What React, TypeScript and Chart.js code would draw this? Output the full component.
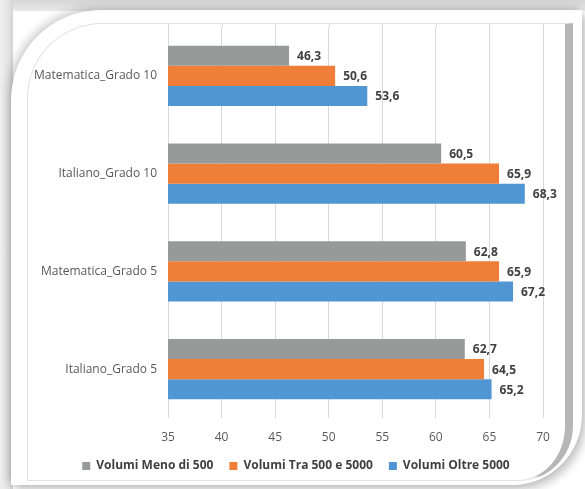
import React, { useEffect, useRef } from "react";
import { Chart, registerables } from "chart.js";

Chart.register(...registerables);

const categories = ["Matematica_Grado 10", "Italiano_Grado 10", "Matematica_Grado 5", "Italiano_Grado 5"];
const seriesNames = ["Volumi Meno di 500", "Volumi Tra 500 e 5000", "Volumi Oltre 5000"];
const menoDi500 = [46.3, 60.5, 62.8, 62.7];
const tra500e5000 = [50.6, 65.9, 65.9, 64.5];
const oltre5000 = [53.6, 68.3, 67.2, 65.2];
const seriesColors = ["#989a9a", "#ef7f38", "#5096d3"];
const xMin = 35;
const xMax = 70;
const xStep = 5;

const FONT = "'Open Sans', 'DejaVu Sans', sans-serif";

const dataLabelPlugin = {
  id: "dataLabels",
  afterDatasetsDraw(chart: any) {
    const ctx = chart.ctx;
    ctx.save();
    ctx.font = `bold 12px ${FONT}`;
    ctx.fillStyle = "#404040";
    ctx.textAlign = "left";
    ctx.textBaseline = "middle";
    chart.data.datasets.forEach((ds: any, i: number) => {
      const meta = chart.getDatasetMeta(i);
      meta.data.forEach((el: any, j: number) => {
        const v = ds.data[j] as number;
        ctx.fillText(v.toFixed(1).replace(".", ","), el.x + 8, el.y + 1);
      });
    });
    ctx.restore();
  },
};

// extends the vertical gridlines a few pixels above the plot area, as in the source
const gridExtendPlugin = {
  id: "gridExtend",
  beforeDatasetsDraw(chart: any) {
    const ctx = chart.ctx;
    const xs = chart.scales.x;
    const top = chart.chartArea.top;
    ctx.save();
    ctx.strokeStyle = "#d9d9d9";
    ctx.lineWidth = 1;
    xs.ticks.forEach((t: any) => {
      const px = Math.round(xs.getPixelForValue(t.value)) + 0.5;
      ctx.beginPath();
      ctx.moveTo(px, top - 4);
      ctx.lineTo(px, top);
      ctx.stroke();
    });
    ctx.restore();
  },
};

// nudges the legend to the right so it is centred like the source
const legendShiftPlugin = {
  id: "legendShift",
  afterLayout(chart: any) {
    const lg = chart.legend;
    if (lg) {
      lg.left += 11;
      lg.right += 11;
    }
  },
};

export default function App() {
  const ref = useRef<HTMLCanvasElement>(null);

  useEffect(() => {
    if (!ref.current) return;
    const chart = new Chart(ref.current, {
      type: "bar",
      data: {
        labels: categories,
        datasets: [
          { label: seriesNames[0], data: menoDi500, backgroundColor: seriesColors[0] },
          { label: seriesNames[1], data: tra500e5000, backgroundColor: seriesColors[1] },
          { label: seriesNames[2], data: oltre5000, backgroundColor: seriesColors[2] },
        ],
      },
      options: {
        indexAxis: "y",
        responsive: false,
        maintainAspectRatio: false,
        animation: false,
        layout: { padding: { left: 27, right: 42, top: 27, bottom: 7 } },
        datasets: { bar: { categoryPercentage: 0.617, barPercentage: 1 } },
        scales: {
          x: {
            min: xMin,
            max: xMax,
            ticks: { stepSize: xStep, color: "#595959", font: { family: FONT, size: 12 }, padding: 12 },
            grid: { color: "#d9d9d9", drawTicks: false },
            border: { display: false },
            afterFit: (s: any) => { s.height = 26; },
          },
          y: {
            ticks: { color: "#595959", font: { family: FONT, size: 12 }, padding: 11 },
            grid: { display: false, drawTicks: false },
            border: { display: false },
            afterFit: (s: any) => { s.width = 141; },
          },
        },
        plugins: {
          legend: {
            position: "bottom",
            labels: {
              boxWidth: 8,
              boxHeight: 8,
              padding: 16,
              color: "#404040",
              font: { family: FONT, size: 12, weight: "bold" },
            },
          },
          tooltip: { enabled: false },
        },
      },
      plugins: [dataLabelPlugin, gridExtendPlugin, legendShiftPlugin],
    } as any);
    return () => chart.destroy();
  }, []);

  return (
    <div style={{ position: "absolute", left: 0, top: 0, width: 585, height: 489, background: "#ffffff", overflow: "hidden" }}>
      <div style={{ position: "absolute", left: 0, top: 0, width: 585, height: 11, background: "linear-gradient(to bottom, #d6d6d6, #e9e9e9)" }} />
      <div style={{ position: "absolute", left: 0, top: 0, width: 13, height: 489, background: "linear-gradient(to right, #f0f0f0, #e2e2e2 70%, #d2d2d2)" }} />
      <div
        style={{
          position: "absolute",
          left: 11,
          top: 10,
          width: 571,
          height: 475,
          background: "#ffffff",
          borderRadius: "90px 0 70px 0",
          boxShadow: "-3px -3px 8px rgba(0,0,0,0.18), 4px 5px 9px rgba(0,0,0,0.22)",
        }}
      />
      <div
        style={{
          position: "absolute",
          left: 27,
          top: 23,
          width: 537,
          height: 456,
          borderTop: "1px solid #e2e2e2",
          borderLeft: "1px solid #e2e2e2",
          borderBottom: "1px solid #e2e2e2",
          borderRight: "8px solid #b6b6b6",
          borderRadius: "75px 0 55px 0",
        }}
      />
      <canvas ref={ref} width={585} height={489} style={{ position: "absolute", left: 0, top: 0, width: 585, height: 489 }} />
    </div>
  );
}
